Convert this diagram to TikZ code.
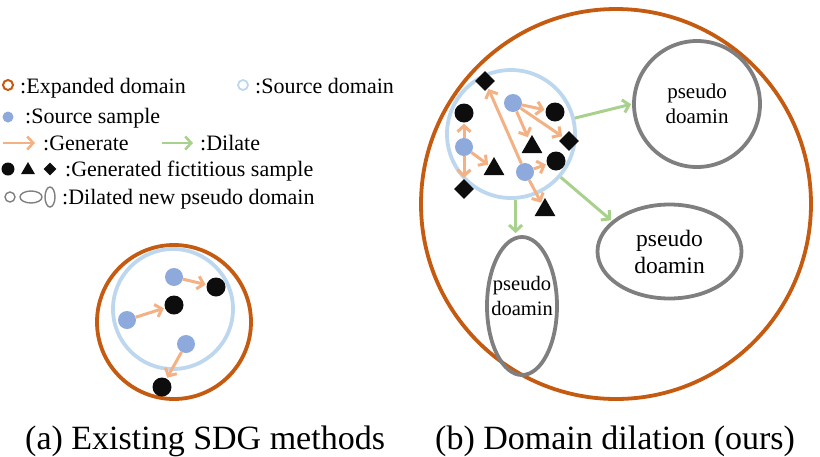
\documentclass[tikz,border=0pt]{standalone}
\usepackage{fontspec}
\setmainfont{Liberation Serif}
\usetikzlibrary{shapes.geometric,arrows.meta}
\definecolor{expc}{HTML}{C55A11}
\definecolor{srcring}{HTML}{BDD7EE}
\definecolor{srcblue}{HTML}{8EA9DB}
\definecolor{genorange}{HTML}{F4B183}
\definecolor{dilgreen}{HTML}{A9D18E}
\definecolor{genblack}{HTML}{0D0D0D}
\definecolor{pgray}{HTML}{7F7F7F}
\newcommand\lgfont{\fontsize{22}{26}\selectfont}
\newcommand\capfont{\fontsize{34}{40}\selectfont}
\tikzset{
  expring/.style={circle,draw=expc,line width=3.8pt,inner sep=0},
  srcring/.style={circle,draw=srcring,line width=3.8pt,inner sep=0},
  pring/.style={draw=pgray,line width=3.8pt,inner sep=0,align=center},
  srcpt/.style={circle,fill=srcblue,minimum size=18pt,inner sep=0},
  genpt/.style={circle,fill=genblack,minimum size=19pt,inner sep=0},
  gendia/.style={diamond,fill=genblack,minimum size=20pt,inner sep=0},
  gentri/.style={regular polygon,regular polygon sides=3,fill=genblack,minimum size=24pt,inner sep=0},
  genarr/.style={draw=genorange,line width=3pt,-{Straight Barb[length=6pt,width=13pt]},shorten >=1pt},
  dilarr/.style={draw=dilgreen,line width=3pt,-{Straight Barb[length=6pt,width=13pt]},shorten >=1pt},
  lgtext/.style={anchor=base west,inner sep=0,font=\lgfont},
  ptext/.style={align=center,inner sep=0},
}
\begin{document}
\begin{tikzpicture}[x=1pt,y=-1pt]
\useasboundingbox (0,0) rectangle (820,456);

% ---------- legend ----------
\node[circle,draw=expc,line width=2pt,minimum size=10pt,inner sep=0] (le1) at (8,85) {};
\node[lgtext] (lt1) at (20,93) {:Expanded domain};
\node[circle,draw=srcring,line width=1.8pt,minimum size=10pt,inner sep=0] (le2) at (243,85) {};
\node[lgtext] (lt2) at (255,93) {:Source domain};
\node[circle,fill=srcblue,minimum size=11pt,inner sep=0] (le3) at (8,117) {};
\node[lgtext] (lt3) at (25,123) {:Source sample};
\coordinate (ga1) at (3,143); \coordinate (ga2) at (35,143);
\draw[genarr,line width=2.6pt,shorten >=0pt] (ga1) -- (ga2);
\node[lgtext] (lt4) at (43,150) {:Generate};
\coordinate (da1) at (162,143); \coordinate (da2) at (193,143);
\draw[dilarr,line width=2.6pt,shorten >=0pt] (da1) -- (da2);
\node[lgtext] (lt5) at (200,150) {:Dilate};
\node[circle,fill=genblack,minimum size=13pt,inner sep=0] (le6a) at (8,169) {};
\node[regular polygon,regular polygon sides=3,fill=genblack,minimum size=16pt,inner sep=0] (le6b) at (28,170) {};
\node[diamond,fill=genblack,minimum size=13pt,inner sep=0] (le6c) at (50,169) {};
\node[lgtext] (lt6) at (65,176) {:Generated fictitious sample};
\node[circle,draw=pgray,line width=1.4pt,minimum size=10pt,inner sep=0] (le7a) at (10,197) {};
\node[ellipse,draw=pgray,line width=1.4pt,minimum width=22pt,minimum height=12pt,inner sep=0] (le7b) at (31,197) {};
\node[ellipse,draw=pgray,line width=1.4pt,minimum width=10pt,minimum height=20pt,inner sep=0] (le7c) at (50,197) {};
\node[lgtext] (lt7) at (62,204) {:Dilated new pseudo domain};

% ---------- (a) existing SDG ----------
\node[expring,minimum size=154pt] (ea) at (174,322) {};
\node[srcring,minimum size=120pt] (sa) at (173,309) {};
\node[srcpt] (a1) at (174,277) {};
\node[genpt] (ak1) at (216,287) {};
\node[genpt] (ak2) at (174,305) {};
\node[srcpt] (a2) at (127,320) {};
\node[srcpt] (a3) at (186,344) {};
\node[genpt] (ak3) at (162,387) {};
\draw[genarr] (a1) -- (ak1);
\draw[genarr] (a2) -- (ak2);
\draw[genarr] (a3) -- (ak3);

% ---------- (b) domain dilation ----------
\node[expring,minimum size=390pt] (eb) at (616,204) {};
\node[pring,circle,minimum size=126pt,font=\fontsize{21}{25}\selectfont] (p1) at (697,104) {pseudo\\doamin};
\node[pring,ellipse,minimum width=144pt,minimum height=94pt,font=\fontsize{23.5}{27}\selectfont] (p2) at (669.5,251.5) {pseudo\\doamin};
\node[pring,ellipse,minimum width=70pt,minimum height=138pt] (p3) at (522,306) {};
\node[ptext,font=\fontsize{20.5}{25}\selectfont] (p3t) at (522,296) {pseudo\\doamin};
\node[srcring,minimum size=128pt] (sb) at (511,134) {};

\node[srcpt] (b1) at (513,103) {};
\node[srcpt] (b2) at (464,147) {};
\node[srcpt] (b3) at (525,172) {};
\node[genpt] (k1) at (464,113) {};
\node[genpt] (k2) at (555,112) {};
\node[genpt] (k3) at (556,161) {};
\node[gendia] (d1) at (485,81) {};
\node[gendia] (d2) at (569,141) {};
\node[gendia] (d3) at (464,189) {};
\node[gentri] (t1) at (532,147) {};
\node[gentri] (t2) at (494,169) {};
\node[gentri] (t3) at (545,210) {};

\draw[genarr] (b1) -- (k2);
\draw[genarr,shorten >=3pt] (b1) -- (t1);
\draw[genarr] (b1) -- (d2);
\draw[genarr] (b2) -- (k1);
\draw[genarr] (b2) -- (t2);
\draw[genarr] (b2) -- (d3);
\draw[genarr] (b3) -- (d1);
\draw[genarr] (b3) -- (k3);
\draw[genarr] (b3) -- (t3);

\draw[dilarr] (sb.14) -- (p1.west);
\draw[dilarr] (sb.-41) -- (p2.152);
\draw[dilarr,shorten >=2pt] (sb.-86) -- (sb.-86 |- p3.north);

% ---------- captions ----------
\node[anchor=base west,inner sep=0,font=\capfont] (ca) at (25,449) {(a) Existing SDG methods};
\node[anchor=base west,inner sep=0,font=\capfont] (cb) at (435,449) {(b) Domain dilation (ours)};
\end{tikzpicture}
\end{document}
